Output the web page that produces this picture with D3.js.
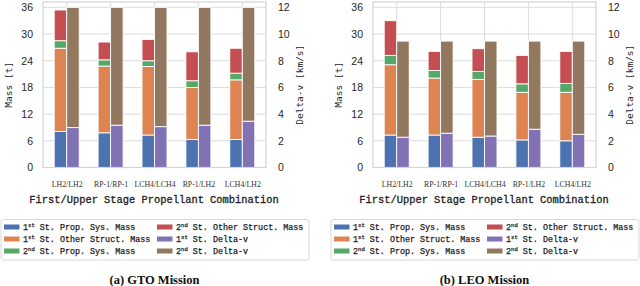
<!DOCTYPE html>
<html>
<head>
<meta charset="utf-8">
<script src="https://cdn.jsdelivr.net/npm/d3@7"></script>
<style>
  body { margin: 0; background: #fff; }
</style>
</head>
<body>
<div id="chart"></div>
<script>
// categories and read-off values
var categories = ["LH2/LH2", "RP-1/RP-1", "LCH4/LCH4", "RP-1/LH2", "LCH4/LH2"];
var massTicks = [0, 6, 12, 18, 24, 30, 36];
var dvTicks = [0, 2, 4, 6, 8, 10, 12];

// GTO mission (t, km/s)
var gtoProp1 = [8.1, 7.8, 7.3, 6.3, 6.3];
var gtoStruct1 = [18.7, 15.0, 15.4, 11.7, 13.4];
var gtoProp2 = [1.7, 1.4, 1.3, 1.5, 1.5];
var gtoStruct2 = [6.9, 4.0, 4.8, 6.5, 5.6];
var gtoDv1 = [2.99, 3.17, 3.06, 3.17, 3.47];
var gtoDv2 = [9.01, 8.83, 8.94, 8.83, 8.53];

// LEO mission
var leoProp1 = [7.3, 7.3, 6.8, 6.2, 6.0];
var leoStruct1 = [15.8, 12.8, 13.0, 10.7, 10.9];
var leoProp2 = [2.1, 1.7, 1.8, 1.9, 2.0];
var leoStruct2 = [7.8, 4.3, 5.1, 6.4, 7.2];
var leoDv1 = [2.27, 2.57, 2.36, 2.87, 2.49];
var leoDv2 = [7.2, 6.9, 7.11, 6.6, 6.98];

var colors = {
  prop1: "#4C72B0", struct1: "#DD8452", prop2: "#55A868",
  struct2: "#C44E52", dv1: "#8172B3", dv2: "#937860"
};

var W = 640, H = 286;
var svg = d3.select("#chart").append("svg")
    .attr("width", W).attr("height", H)
    .style("font-family", "Liberation Sans, Arial, sans-serif");

var gridColor = "#dcdcdc";

function drawPanel(offsetX, m, caption)
{
    var g = svg.append("g").attr("transform", "translate(" + offsetX + ",0)");
    var left = 43, right = 266, top = 2, bottom = 167.5;

    var x = d3.scalePoint().domain(categories).range([left, right]).padding(0.54);
    var y = d3.scaleLinear().domain([0, 37.2]).range([bottom, top]);
    var y2 = d3.scaleLinear().domain([0, 12.4]).range([bottom, top]);
    var bw = 12.5;

    // grid
    g.append("g").selectAll("line").data(massTicks).join("line")
        .attr("x1", left).attr("x2", right)
        .attr("y1", d => y(d)).attr("y2", d => y(d))
        .attr("stroke", gridColor).attr("stroke-width", 1);
    g.append("g").selectAll("line").data(categories).join("line")
        .attr("x1", d => x(d)).attr("x2", d => x(d))
        .attr("y1", top).attr("y2", bottom)
        .attr("stroke", gridColor).attr("stroke-width", 1);

    // mass stack
    var rows = categories.map((c, i) => ({
        cat: c, prop1: m.prop1[i], struct1: m.struct1[i], prop2: m.prop2[i], struct2: m.struct2[i]
    }));
    var stack = d3.stack().keys(["prop1", "struct1", "prop2", "struct2"])(rows);
    g.append("g").selectAll("g").data(stack).join("g")
        .attr("fill", d => colors[d.key])
        .selectAll("rect").data(d => d).join("rect")
            .attr("x", d => x(d.data.cat) - bw)
            .attr("width", bw)
            .attr("y", d => y(d[1]))
            .attr("height", d => y(d[0]) - y(d[1]))
            .attr("stroke", "#fff").attr("stroke-width", 0.9);

    // delta-v stack
    var dvRows = categories.map((c, i) => ({ cat: c, dv1: m.dv1[i], dv2: m.dv2[i] }));
    var dvStack = d3.stack().keys(["dv1", "dv2"])(dvRows);
    g.append("g").selectAll("g").data(dvStack).join("g")
        .attr("fill", d => colors[d.key])
        .selectAll("rect").data(d => d).join("rect")
            .attr("x", d => x(d.data.cat))
            .attr("width", bw)
            .attr("y", d => y2(d[1]))
            .attr("height", d => y2(d[0]) - y2(d[1]))
            .attr("stroke", "#fff").attr("stroke-width", 0.9);

    // frame
    g.append("rect")
        .attr("x", left).attr("y", top)
        .attr("width", right - left).attr("height", bottom - top)
        .attr("fill", "none").attr("stroke", "#d4d4d4").attr("stroke-width", 1.2);

    // axes
    var yAxisG = g.append("g").attr("transform", "translate(" + left + ",0)")
        .call(d3.axisLeft(y).tickValues(massTicks).tickSize(0).tickPadding(10));
    var y2AxisG = g.append("g").attr("transform", "translate(" + right + ",0)")
        .call(d3.axisRight(y2).tickValues(dvTicks).tickSize(0).tickPadding(12));
    var xAxisG = g.append("g").attr("transform", "translate(0," + bottom + ")")
        .call(d3.axisBottom(x).tickSize(0).tickPadding(14));
    [yAxisG, y2AxisG].forEach(a => {
        a.select(".domain").remove();
        a.selectAll("text").attr("font-size", 10.5).attr("fill", "#262626")
            .attr("font-family", "Liberation Sans, Arial, sans-serif");
    });
    xAxisG.select(".domain").remove();
    xAxisG.selectAll("text").attr("font-size", 7.8).attr("fill", "#333")
        .attr("font-family", "Liberation Serif, serif");

    // axis titles
    g.append("text")
        .attr("transform", "translate(9," + ((top + bottom) / 2) + ") rotate(-90)")
        .attr("text-anchor", "middle").attr("dy", "0.35em")
        .attr("font-family", "DejaVu Sans Mono, monospace").attr("font-size", 9.5)
        .attr("fill", "#262626")
        .text("Mass [t]");
    g.append("text")
        .attr("transform", "translate(300," + ((top + bottom) / 2) + ") rotate(-90)")
        .attr("text-anchor", "middle").attr("dy", "0.35em")
        .attr("font-family", "DejaVu Sans Mono, monospace").attr("font-size", 9.5)
        .attr("fill", "#262626")
        .text("Delta-v [km/s]");
    g.append("text")
        .attr("x", 154).attr("y", 202.5)
        .attr("text-anchor", "middle")
        .attr("font-family", "Liberation Mono, monospace").attr("font-size", 10.4)
        .attr("fill", "#222").attr("stroke", "#222").attr("stroke-width", 0.3)
        .text("First/Upper Stage Propellant Combination");

    // legend
    var lg = g.append("g");
    lg.append("rect")
        .attr("x", 1).attr("y", 219.5).attr("width", 308).attr("height", 40.5)
        .attr("rx", 2.5).attr("fill", "#fff").attr("stroke", "#d8d8d8").attr("stroke-width", 1);
    var items = [
        { key: "prop1", ord: "st", pre: "1", txt: " St. Prop. Sys. Mass" },
        { key: "struct1", ord: "st", pre: "1", txt: " St. Other Struct. Mass" },
        { key: "prop2", ord: "nd", pre: "2", txt: " St. Prop. Sys. Mass" },
        { key: "struct2", ord: "nd", pre: "2", txt: " St. Other Struct. Mass" },
        { key: "dv1", ord: "st", pre: "1", txt: " St. Delta-v" },
        { key: "dv2", ord: "nd", pre: "2", txt: " St. Delta-v" }
    ];
    var li = lg.selectAll("g.item").data(items).join("g")
        .attr("class", "item")
        .attr("transform", (d, i) => "translate(" + (i < 3 ? 4 : 157) + "," + (227 + (i % 3) * 12) + ")");
    li.append("rect").attr("x", 0).attr("y", -2.5).attr("width", 15.5).attr("height", 5)
        .attr("fill", d => colors[d.key]);
    var t = li.append("text").attr("x", 19).attr("dy", "0.35em")
        .attr("font-family", "Liberation Mono, monospace").attr("font-size", 8.4)
        .attr("fill", "#222").attr("stroke", "#222").attr("stroke-width", 0.25);
    t.append("tspan").text(d => d.pre);
    t.append("tspan").attr("font-size", 5.6).attr("dy", -3.2).text(d => d.ord);
    t.append("tspan").attr("dy", 3.2).text(d => d.txt);

    // caption
    g.append("text")
        .attr("x", 154.5).attr("y", 283.5)
        .attr("text-anchor", "middle")
        .attr("font-family", "Liberation Serif, Times New Roman, serif")
        .attr("font-weight", "bold").attr("font-size", 12.5).attr("fill", "#111")
        .text(caption);
}

drawPanel(0, { prop1: gtoProp1, struct1: gtoStruct1, prop2: gtoProp2, struct2: gtoStruct2,
    dv1: gtoDv1, dv2: gtoDv2 }, "(a) GTO Mission");
drawPanel(330, { prop1: leoProp1, struct1: leoStruct1, prop2: leoProp2, struct2: leoStruct2,
    dv1: leoDv1, dv2: leoDv2 }, "(b) LEO Mission");
</script>
</body>
</html>
